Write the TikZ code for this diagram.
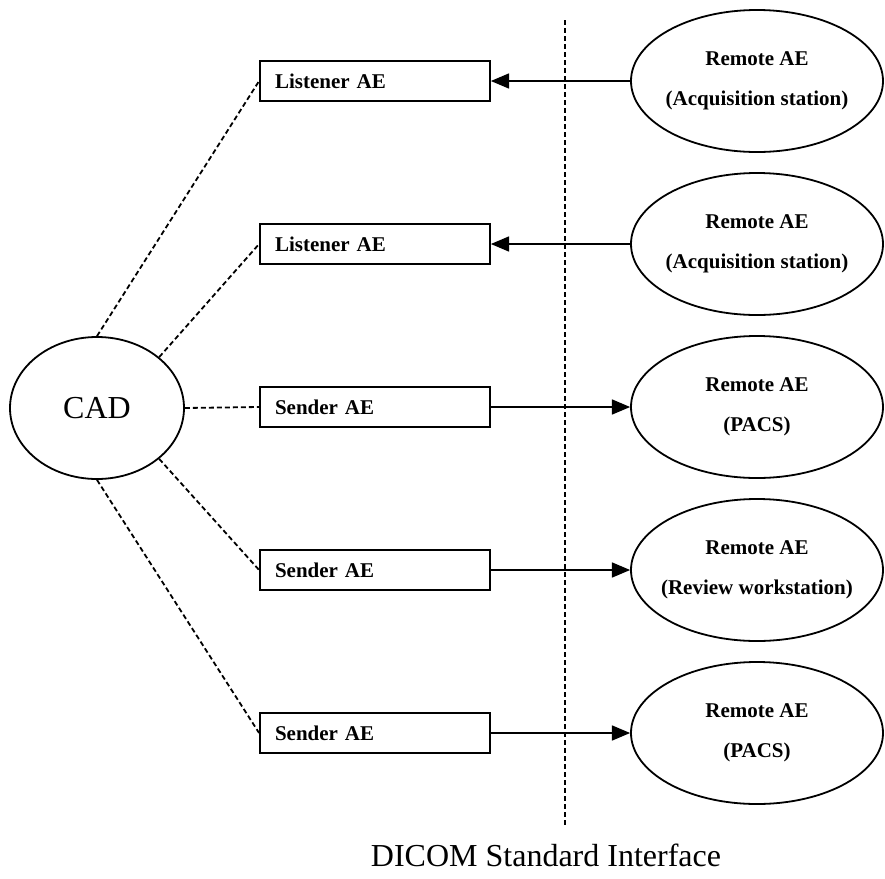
\documentclass[tikz,border=0pt]{standalone}
\usepackage{fontspec}
\setmainfont{Liberation Serif}
\usepackage{tikz}
\usetikzlibrary{positioning}
\usetikzlibrary{arrows,shapes.geometric}

\begin{document}
\begin{tikzpicture}[>=triangle 45,x=0.5pt,y=-0.5pt,node distance=81.5pt,line width=0.9pt,
	aebox/.style={draw,rectangle,minimum height=20pt,text width=100pt,inner xsep=7.5pt,inner ysep=0pt,align=left,font=\fontsize{10.5}{12}\selectfont\bfseries},
	remote/.style={draw,ellipse,minimum width=126pt,minimum height=71pt,inner xsep=-6pt,inner ysep=0pt,align=center,font=\fontsize{10.5}{20}\selectfont\bfseries},
	link/.style={dash pattern=on 2.5pt off 1.5pt}]
				\useasboundingbox (0,0) rectangle (885,879);

				\node[draw,ellipse,minimum width=87pt,minimum height=71pt,inner sep=0pt,font=\fontsize{16}{18}\selectfont] (cad) at (97,408) {CAD};

				\node[aebox] (l1) at (375,81) {Listener AE};
				\node[aebox, below of=l1] (l2) {Listener AE};
				\node[aebox, below of=l2] (s1) {Sender AE};
				\node[aebox, below of=s1] (s2) {Sender AE};
				\node[aebox, below of=s2] (s3) {Sender AE};

				\begin{scope}[node distance=191pt]
				\node[remote, right of=l1] (r1) {Remote AE\\(Acquisition station)};
				\node[remote, right of=l2] (r2) {Remote AE\\(Acquisition station)};
				\node[remote, right of=s1] (r3) {Remote AE\\(PACS)};
				\node[remote, right of=s2] (r4) {Remote AE\\(Review workstation)};
				\node[remote, right of=s3] (r5) {Remote AE\\(PACS)};
				\end{scope}

				% interface line
				\coordinate (itop) at (565,20);
				\coordinate (ibot) at (565,827);
				\draw[link] (itop) -- (ibot);
				\node[font=\fontsize{16}{18}\selectfont] (iface) at (546,855) {DICOM Standard Interface};

				\path[link]
				(cad.north) edge (l1.west)
				(cad.north east) edge (l2.west)
				(cad.east) edge (s1.west)
				(cad.south east) edge (s2.west)
				(cad.south) edge (s3.west)
				;

				\path[->,line width=1.1pt]
				(r1) edge (l1)
				(r2) edge (l2)
				(s1) edge (r3)
				(s2) edge (r4)
				(s3) edge (r5)
				;
\end{tikzpicture}
\end{document}
